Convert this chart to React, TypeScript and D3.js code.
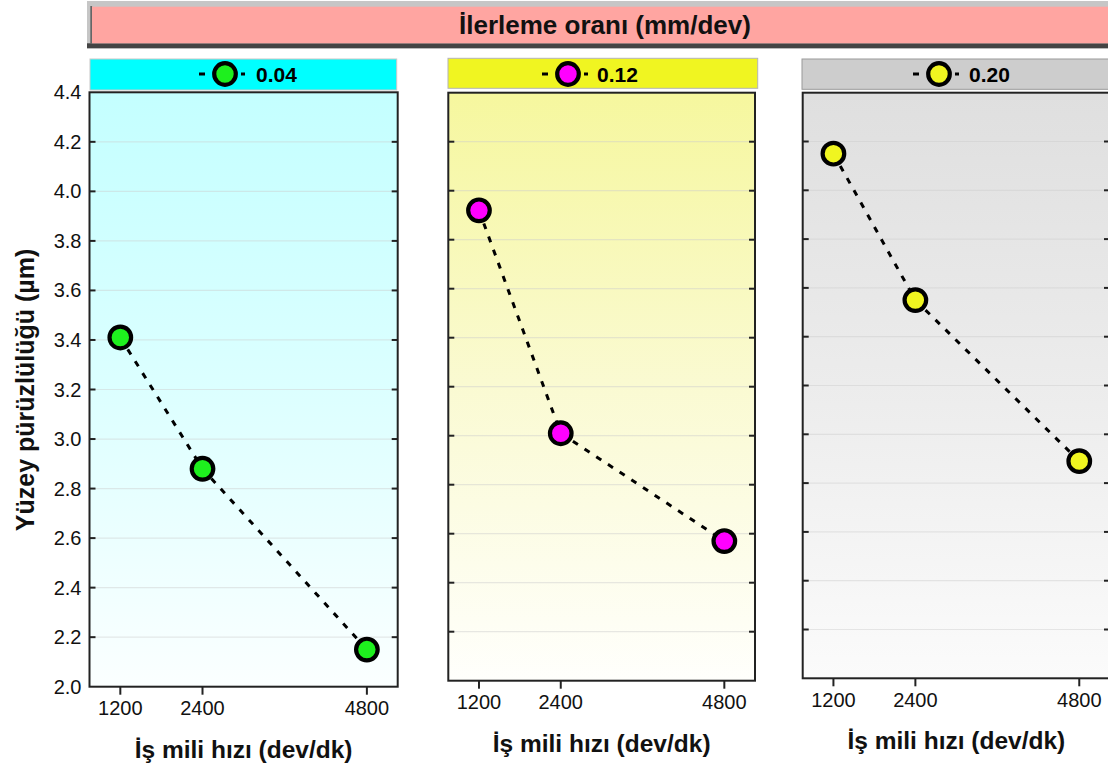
import React from "react";
import * as d3 from "d3";

// ---- data ----
const feedRates = ["0.04", "0.12", "0.20"];
const spindleSpeeds = [1200, 2400, 4800];
const roughness004 = [3.41, 2.88, 2.15];
const roughness012 = [3.92, 3.01, 2.57];
const roughness020 = [4.15, 3.55, 2.89];
const yTicks = [2.0, 2.2, 2.4, 2.6, 2.8, 3.0, 3.2, 3.4, 3.6, 3.8, 4.0, 4.2, 4.4];
const xTicks = [1200, 2400, 4800];
const yDomain: [number, number] = [2.0, 4.4];
const xDomain: [number, number] = [750, 5250];

const bannerTitle = "İlerleme oranı (mm/dev)";
const xTitle = "İş mili hızı (dev/dk)";
const yTitle = "Yüzey pürüzlülüğü (µm)";

// ---- styles / layout ----
const seriesValues = [roughness004, roughness012, roughness020];
const markerFills = ["#1ef01e", "#ff00ff", "#f0f520"];
const headerFills = ["#00ffff", "#f0f521", "#cdcdcd"];
const headerStrokes = ["#c8c8c8", "#b4b4b4", "#9a9a9a"];
const bgTop = ["#c4ffff", "#f6f79e", "#dfdfdf"];
const bgMid = ["#dcffff", "#fafad2", "#ececec"];
const bgBottom = ["#fbffff", "#fffffc", "#fbfbfb"];
const plotBoxes = [
  { x0: 89.5, x1: 397.7, y0: 92.3, y1: 686.7 },
  { x0: 448.3, x1: 755, y0: 92.7, y1: 680.7 },
  { x0: 802.7, x1: 1110, y0: 92.7, y1: 678.3 },
];
const headerBoxes = [
  { x0: 90, x1: 396.7, y0: 59, y1: 90 },
  { x0: 448, x1: 757.7, y0: 58.3, y1: 88.3 },
  { x0: 802, x1: 1114, y0: 59, y1: 89.3 },
];
const legendOffsets = [135, 120, 137];
const legendTextGap = [31, 29, 30];

const FONT = "'Liberation Sans', Arial, Helvetica, sans-serif";
const R = 10.8;
const MSW = 4.2;
const DASH = "6 8";
const LW = 3;

function Panel({ i }: { i: number }) {
  const b = plotBoxes[i];
  const h = headerBoxes[i];
  const x = d3.scaleLinear().domain(xDomain).range([b.x0, b.x1]);
  const y = d3.scaleLinear().domain(yDomain).range([b.y1, b.y0]);
  const vals = seriesValues[i];
  const pts = spindleSpeeds.map((s, k) => [x(s), y(vals[k])] as [number, number]);
  const line = d3.line()(pts) || "";
  const gid = `bg${i}`;
  const cx = h.x0 + legendOffsets[i];
  const cy = 74;
  return (
    <g>
      <defs>
        <linearGradient id={gid} x1="0" y1="0" x2="0" y2="1">
          <stop offset="0" stopColor={bgTop[i]} />
          <stop offset="0.5" stopColor={bgMid[i]} />
          <stop offset="1" stopColor={bgBottom[i]} />
        </linearGradient>
      </defs>
      {/* header */}
      <rect x={h.x0} y={h.y0} width={h.x1 - h.x0} height={h.y1 - h.y0} fill={headerFills[i]} stroke={headerStrokes[i]} strokeWidth={1} />
      <line x1={cx - 26} x2={cx + 20} y1={cy} y2={cy} stroke="#000" strokeWidth={LW} strokeDasharray={DASH} />
      <circle cx={cx} cy={cy} r={R} fill={markerFills[i]} stroke="#000" strokeWidth={MSW} />
      <text x={cx + legendTextGap[i]} y={81.7} fontFamily={FONT} fontWeight="bold" fontSize={21} fill="#000">{feedRates[i]}</text>
      {/* background */}
      <rect x={b.x0} y={b.y0} width={b.x1 - b.x0} height={b.y1 - b.y0} fill={`url(#${gid})`} />
      {/* gridlines */}
      {yTicks.slice(1, -1).map((t) => (
        <line key={`g${t}`} x1={b.x0} x2={b.x1} y1={y(t)} y2={y(t)} stroke="#cccccc" strokeOpacity={0.45} strokeWidth={1.2} />
      ))}
      {/* y ticks inward on both sides */}
      {yTicks.slice(1, -1).map((t) => (
        <g key={`yt${t}`}>
          <line x1={b.x0} x2={b.x0 + 6} y1={y(t)} y2={y(t)} stroke="#222" strokeWidth={2} />
          <line x1={b.x1 - 6} x2={b.x1} y1={y(t)} y2={y(t)} stroke="#222" strokeWidth={2} />
        </g>
      ))}
      {/* x ticks outward */}
      {xTicks.map((t) => (
        <g key={`xt${t}`}>
          <line x1={x(t)} x2={x(t)} y1={b.y1} y2={b.y1 + 8} stroke="#222" strokeWidth={2} />
          <text x={x(t)} y={b.y1 + 21.5} dy="0.35em" textAnchor="middle" fontFamily={FONT} fontSize={20} fill="#111">{t}</text>
        </g>
      ))}
      {/* y tick labels only on first panel */}
      {i === 0 &&
        yTicks.map((t) => (
          <text key={`yl${t}`} x={b.x0 - 8} y={y(t)} dy="0.35em" textAnchor="end" fontFamily={FONT} fontSize={20} fill="#111">{t.toFixed(1)}</text>
        ))}
      {/* frame */}
      <rect x={b.x0} y={b.y0} width={b.x1 - b.x0} height={b.y1 - b.y0} fill="none" stroke="#222" strokeWidth={2} />
      {/* series */}
      <path d={line} fill="none" stroke="#000" strokeWidth={LW} strokeDasharray={DASH} />
      {pts.map((p, k) => (
        <circle key={k} cx={p[0]} cy={p[1]} r={R} fill={markerFills[i]} stroke="#000" strokeWidth={MSW} />
      ))}
      {/* x title */}
      <text x={(b.x0 + b.x1) / 2} y={b.y1 + 71} textAnchor="middle" fontFamily={FONT} fontWeight="bold" fontSize={24.5} fill="#111">{xTitle}</text>
    </g>
  );
}

export default function App() {
  return (
    <svg width={1108} height={769} style={{ position: "absolute", left: 0, top: 0, background: "#fff" }}>
      <rect x={0} y={0} width={1108} height={769} fill="#fff" />
      {/* banner */}
      <rect x={87} y={1} width={1040} height={47.3} fill="#c6c6c6" />
      <rect x={87} y={43.3} width={1040} height={5} fill="#444" />
      <rect x={90.3} y={6} width={1.8} height={38} fill="#666" />
      <rect x={92} y={6.7} width={1035} height={36.6} fill="#ffa5a1" />
      <text x={605} y={34.3} textAnchor="middle" fontFamily={FONT} fontWeight="bold" fontSize={26} fill="#111">{bannerTitle}</text>
      {[0, 1, 2].map((i) => (
        <Panel key={i} i={i} />
      ))}
      {/* y title */}
      <text transform="translate(33.5,390) rotate(-90)" textAnchor="middle" fontFamily={FONT} fontWeight="bold" fontSize={25} fill="#111">{yTitle}</text>
    </svg>
  );
}
